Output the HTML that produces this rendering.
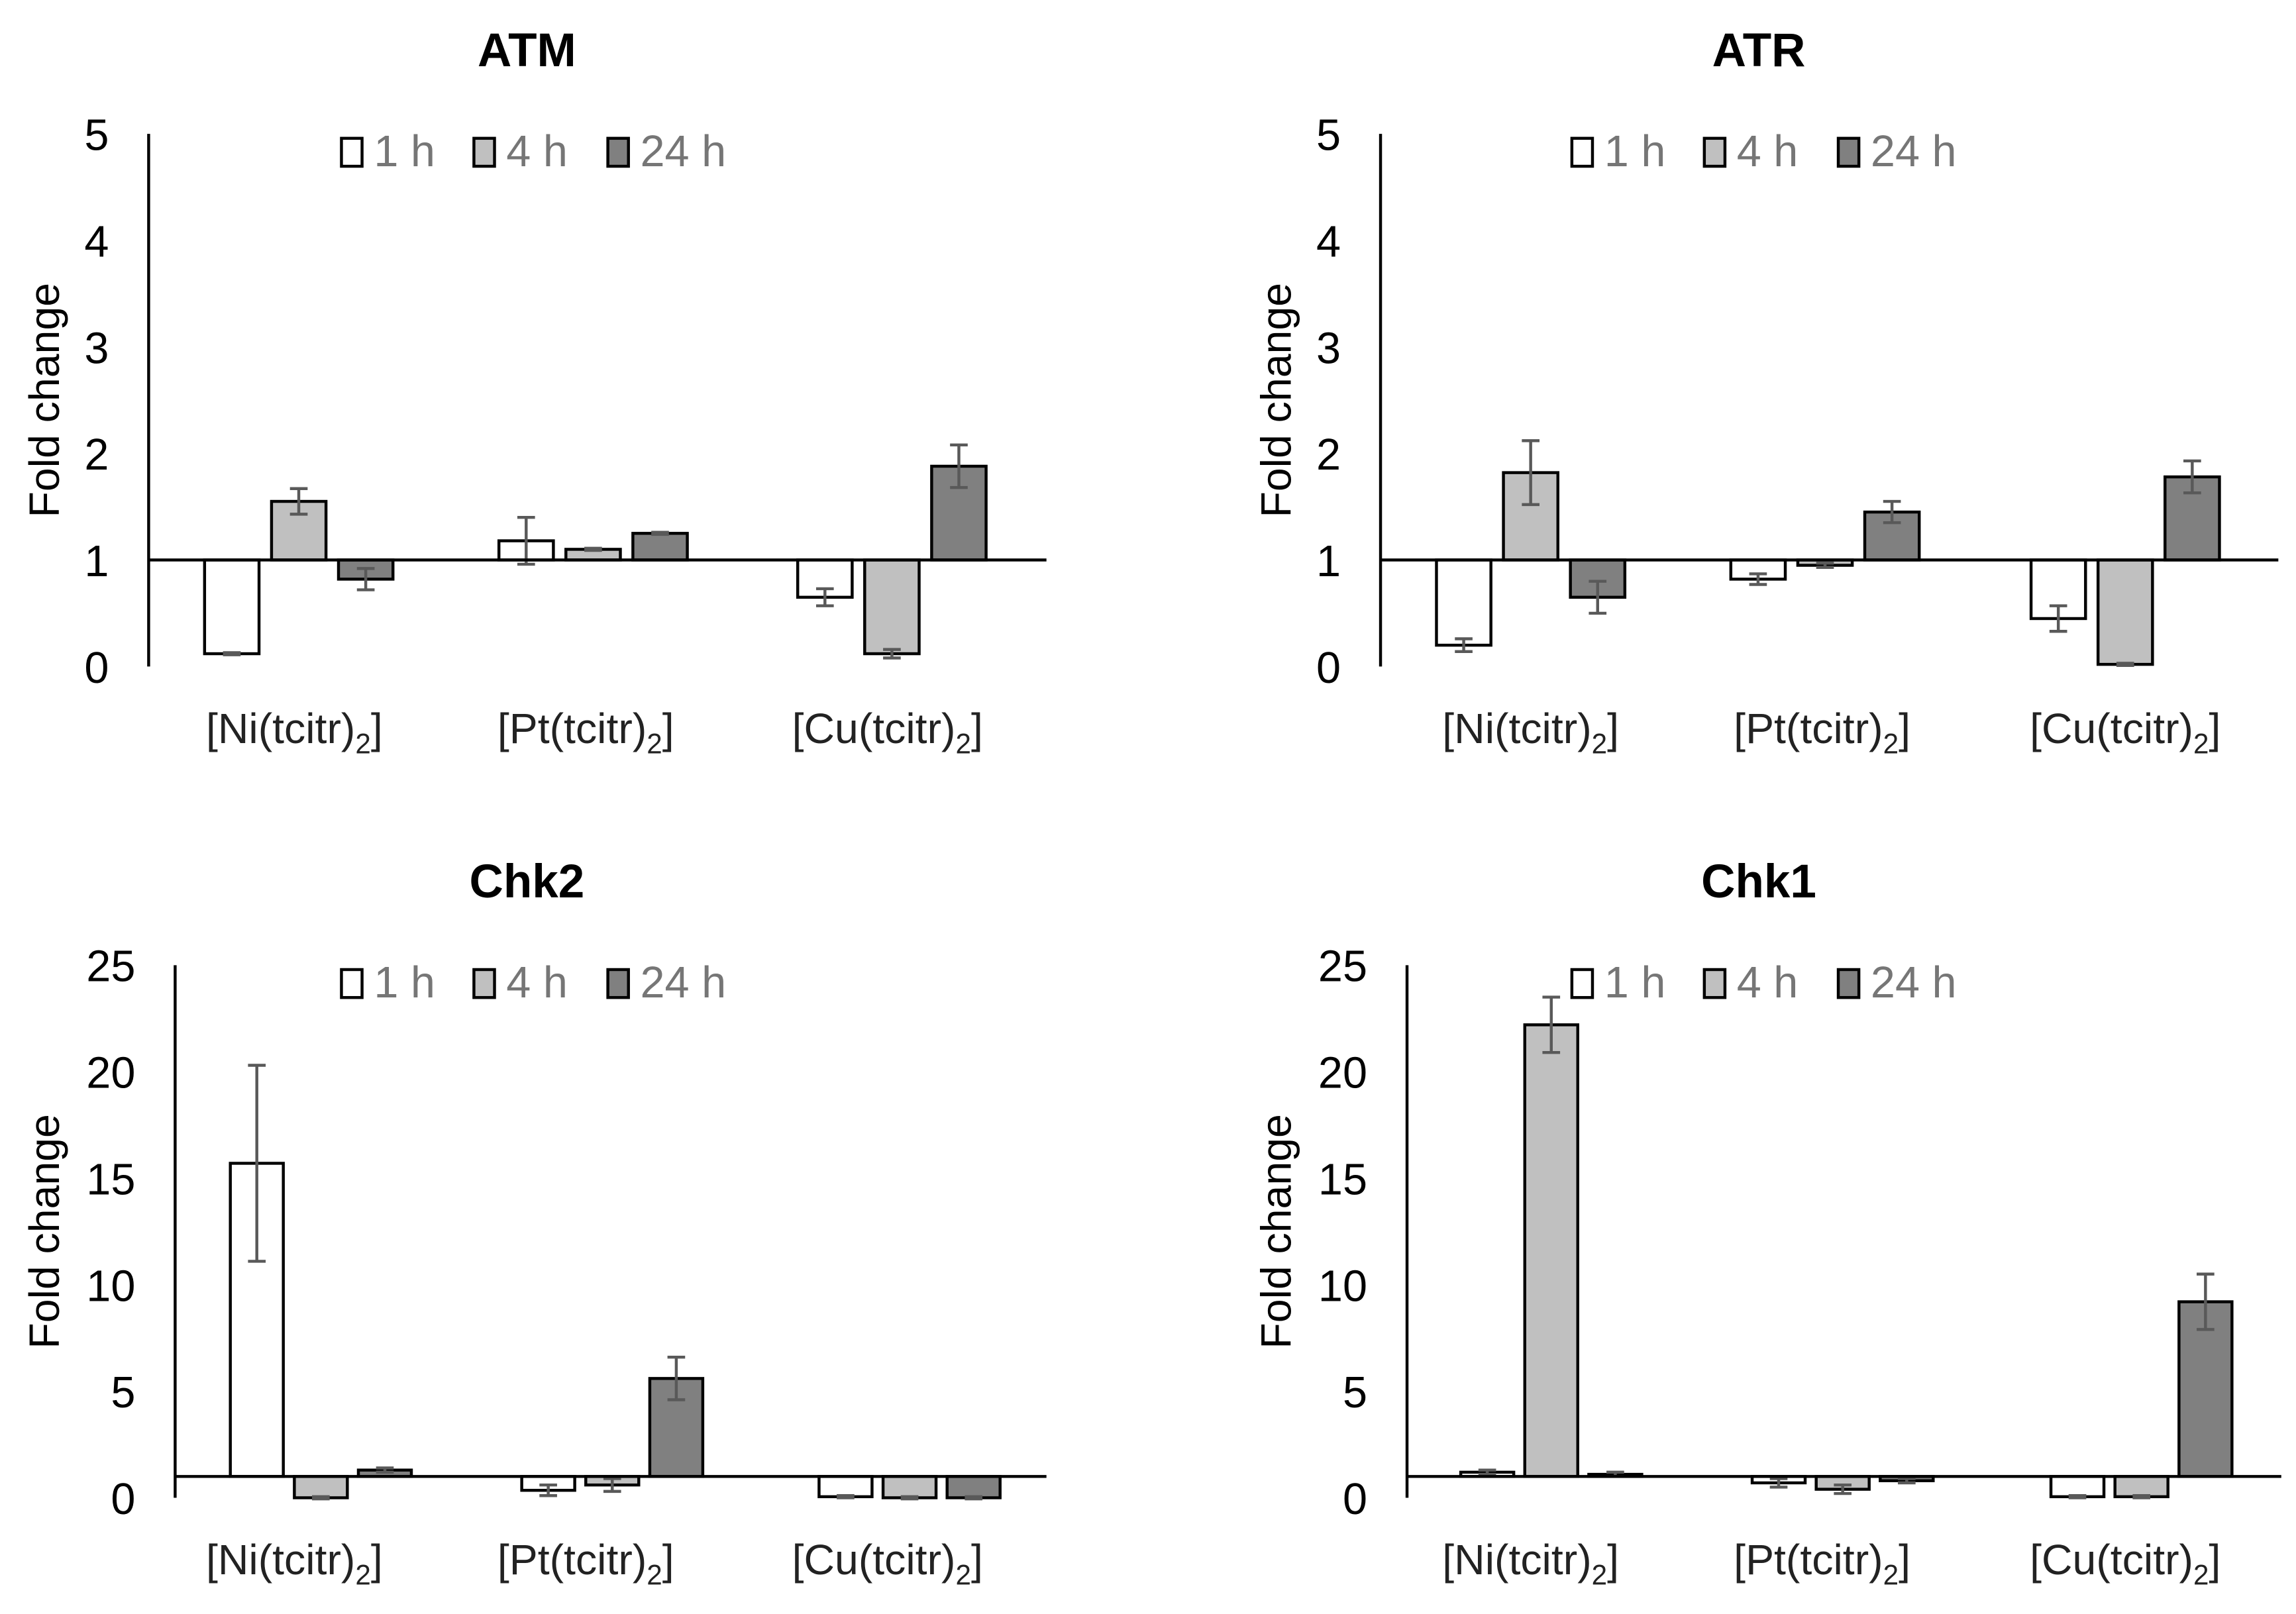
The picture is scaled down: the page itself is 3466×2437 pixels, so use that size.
<!DOCTYPE html>
<html><head><meta charset="utf-8"><style>html,body{margin:0;padding:0;background:#fff}svg{display:block}</style></head>
<body>
<svg id="fig" width="3466" height="2437" viewBox="0 0 1560 1097" preserveAspectRatio="none" xmlns="http://www.w3.org/2000/svg" font-family="Liberation Sans, Arial, sans-serif"></svg>
<script>
const categories = ["Ni", "Pt", "Cu"];
const seriesNames = ["1 h", "4 h", "24 h"];
const atmValues = [[0.12, 1.18, 0.65], [1.55, 1.10, 0.12], [0.82, 1.25, 1.88]];
const atmErrors = [[0.01, 0.22, 0.08], [0.12, 0.01, 0.04], [0.10, 0.01, 0.20]];
const atrValues = [[0.20, 0.82, 0.45], [1.82, 0.95, 0.02], [0.65, 1.45, 1.78]];
const atrErrors = [[0.06, 0.05, 0.12], [0.30, 0.02, 0.01], [0.15, 0.10, 0.15]];
const chk2Values = [[15.7, 0.35, 0.05], [0.0, 0.6, 0.0], [1.3, 5.6, 0.0]];
const chk2Errors = [[4.6, 0.25, 0.05], [0.05, 0.3, 0.05], [0.1, 1.0, 0.05]];
const chk1Values = [[1.2, 0.7, 0.05], [22.2, 0.4, 0.05], [1.1, 0.8, 9.2]];
const chk1Errors = [[0.1, 0.2, 0.05], [1.3, 0.2, 0.05], [0.1, 0.1, 1.3]];
const smallTicks = [0, 1, 2, 3, 4, 5];
const bigTicks = [0, 5, 10, 15, 20, 25];

const NS = "http://www.w3.org/2000/svg";
const svg = document.getElementById("fig");
const fills = ["#ffffff", "#c0c0c0", "#808080"];
function mk(tag, attrs, parent) {
  const e = document.createElementNS(NS, tag);
  for (const k in attrs) e.setAttribute(k, attrs[k]);
  (parent || svg).appendChild(e);
  return e;
}
function panel(o) {
  const g = mk("g", {});
  
  
  const y = v => o.bottom - (v - o.min) / (o.max - o.min) * (o.bottom - o.top);
  const t = mk("text", {x: o.titleX, y: o.titleY, "font-size": 32, "font-weight": "bold", "text-anchor": "middle"}, g);
  t.textContent = o.title;
  
  
  const yl = mk("text", {x: 0, y: 0, "font-size": 29, "text-anchor": "middle", transform: `translate(${o.ylX},${(o.top + o.bottom) / 2}) rotate(-90)`}, g);
  yl.textContent = "Fold change";
  
  
  o.ticks.forEach(tv => {
    const tl = mk("text", {x: o.axisX - 27, y: y(tv) + 11, "font-size": 30, "text-anchor": "end"}, g);
    tl.textContent = tv;
    
    
  });
  const ax = mk("line", {x1: o.axisX, x2: o.axisX, y1: o.top, y2: o.bottom, stroke: "#000", "stroke-width": 2}, g);
  
  
  const yb = y(o.base);
  o.values.forEach((ser, si) => {
    ser.forEach((v, ci) => {
      const cx = o.catX[ci] + (si - 1) * o.step;
      const x0 = cx - o.bw / 2;
      const top = Math.min(y(v), yb), h = Math.abs(y(v) - yb);
      const r = mk("rect", {x: x0, y: top, width: o.bw, height: Math.max(h, 0.5), fill: fills[si], stroke: "#000", "stroke-width": 2}, g);
      
      
      const e = o.errors[si][ci];
      const ep = mk("path", {d: `M${cx},${y(v + e)}V${y(v - e)}M${cx - 6},${y(v + e)}H${cx + 6}M${cx - 6},${y(v - e)}H${cx + 6}`, stroke: "#595959", "stroke-width": 2, fill: "none"}, g);
      
      
    });
  });
  const bl = mk("line", {x1: o.axisX, x2: o.right, y1: yb, y2: yb, stroke: "#000", "stroke-width": 2}, g);
  
  
  categories.forEach((c, ci) => {
    const ct = mk("text", {x: o.labX[ci], y: o.bottom + 52, "font-size": 29, "text-anchor": "middle", fill: "#222"}, g);
    ct.innerHTML = `[${c}(tcitr)<tspan font-size="19" dy="7">2</tspan><tspan dy="-7">]</tspan>`;
    
    
  });
  const lx = [o.legX, o.legX + 90, o.legX + 181];
  seriesNames.forEach((s, si) => {
    const sq = mk("rect", {x: lx[si], y: o.top + 3, width: 14, height: 19, fill: fills[si], stroke: "#000", "stroke-width": 2}, g);
    
    
    const lt = mk("text", {x: lx[si] + 22, y: o.top + 22, "font-size": 30, fill: "#767676"}, g);
    lt.textContent = s;
    
    
  });
}
panel({id: "atm", title: "ATM", titleX: 358, titleY: 45, ylX: 40, axisX: 101, right: 711, top: 91, bottom: 453, min: 0, max: 5, base: 1, ticks: smallTicks, values: atmValues, errors: atmErrors, catX: [203, 403, 606], labX: [200, 398, 603], step: 45.5, bw: 37, legX: 232});
panel({id: "atr", title: "ATR", titleX: 1195, titleY: 45, ylX: 877, axisX: 938, right: 1548, top: 91, bottom: 453, min: 0, max: 5, base: 1, ticks: smallTicks, values: atrValues, errors: atrErrors, catX: [1040, 1240, 1444], labX: [1040, 1238, 1444], step: 45.5, bw: 37, legX: 1068});
panel({id: "chk2", title: "Chk2", titleX: 358, titleY: 610, ylX: 40, axisX: 119, right: 711, top: 656, bottom: 1018, min: 0, max: 25, base: 1, ticks: bigTicks, values: chk2Values, errors: chk2Errors, catX: [218, 416, 618], labX: [200, 398, 603], step: 43.5, bw: 36, legX: 232});
panel({id: "chk1", title: "Chk1", titleX: 1195, titleY: 610, ylX: 877, axisX: 956, right: 1550, top: 656, bottom: 1018, min: 0, max: 25, base: 1, ticks: bigTicks, values: chk1Values, errors: chk1Errors, catX: [1054, 1252, 1455], labX: [1040, 1238, 1444], step: 43.5, bw: 36, legX: 1068});
</script>
</body></html>
